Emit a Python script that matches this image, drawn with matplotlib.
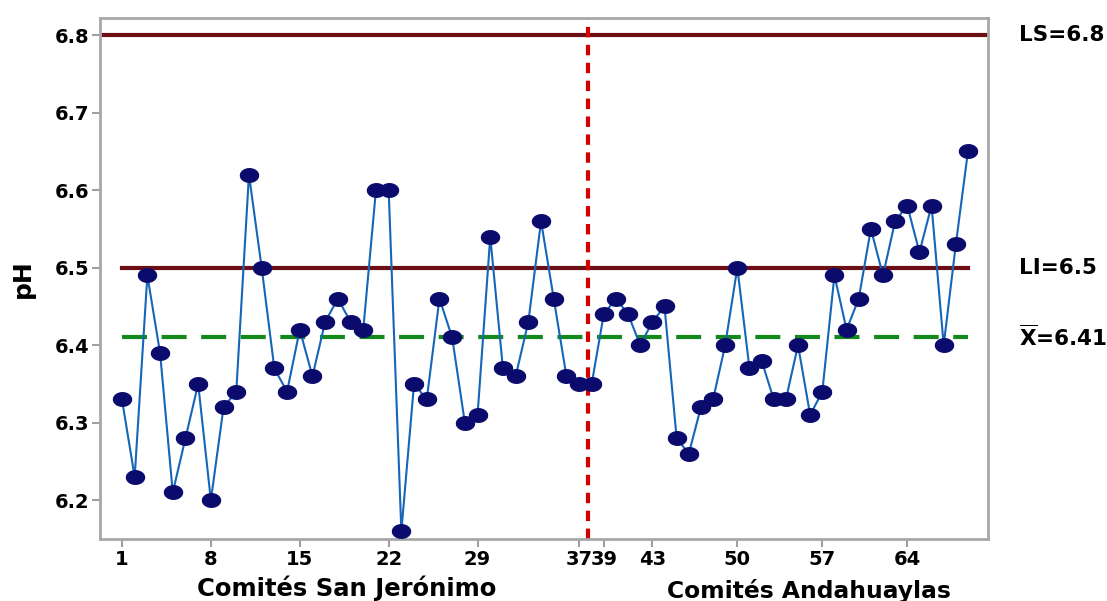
import numpy as np
import matplotlib.pyplot as plt
from matplotlib.path import Path

# pH por comité (1-37 San Jerónimo, 38-69 Andahuaylas)
ph = [6.33, 6.23, 6.49, 6.39, 6.21, 6.28, 6.35, 6.20, 6.32, 6.34,
      6.62, 6.50, 6.37, 6.34, 6.42, 6.36, 6.43, 6.46, 6.43, 6.42,
      6.60, 6.60, 6.16, 6.35, 6.33, 6.46, 6.41, 6.30, 6.31, 6.54,
      6.37, 6.36, 6.43, 6.56, 6.46, 6.36, 6.35,
      6.35, 6.44, 6.46, 6.44, 6.40, 6.43, 6.45, 6.28, 6.26, 6.32,
      6.33, 6.40, 6.50, 6.37, 6.38, 6.33, 6.33, 6.40, 6.31, 6.34,
      6.49, 6.42, 6.46, 6.55, 6.49, 6.56, 6.58, 6.52, 6.58, 6.40,
      6.53, 6.65]
comite = np.arange(1, len(ph) + 1)
xticks = [1, 8, 15, 22, 29, 37, 39, 43, 50, 57, 64]
yticks = [6.2, 6.3, 6.4, 6.5, 6.6, 6.7, 6.8]
ls, li, xbar = 6.8, 6.5, 6.41
split = 37.7


# the two groups were plotted at slightly different spacing
def fwd(x):
    x = np.asarray(x, dtype=float)
    return np.where(x <= split, (x - split) * 12.69, (x - split) * 12.13)


def inv(u):
    u = np.asarray(u, dtype=float)
    return np.where(u <= 0, u / 12.69 + split, u / 12.13 + split)


# elliptic marker
t = np.linspace(0, 2 * np.pi, 40)
ellipse = Path(np.column_stack([np.cos(t), 0.75 * np.sin(t)]))

fig = plt.figure(figsize=(11.07, 6.01), dpi=100)
ax = fig.add_axes([100 / 1107, 62 / 601, 888 / 1107, 521 / 601])
ax.set_xscale('function', functions=(fwd, inv))

ax.axhline(ls, color='#6b0f14', lw=3, zorder=2)
ax.plot([1, comite[-1]], [li, li], color='#6b0f14', lw=3, zorder=2)
ax.plot([1, comite[-1]], [xbar, xbar], color='#13891c', lw=3, ls=(0, (6, 3.5)), zorder=2)
ax.axvline(split, color='#d40000', lw=3, ls=(0, (2.5, 1.8)), zorder=2)

ax.plot(comite, ph, color='#1565b8', lw=1.5, marker=ellipse, ms=13,
        mfc='#0b0b6e', mec='#0b0b6e', zorder=3)

ax.set_xlim(-0.73, 70.65)
ax.set_ylim(6.15, 6.822)
ax.set_xticks(xticks)
ax.set_xticklabels([str(v) for v in xticks])
ax.xaxis.set_minor_locator(plt.NullLocator())
ax.set_yticks(yticks)
ax.set_yticklabels([f'{v:.1f}' for v in yticks])
for lab in ax.get_xticklabels() + ax.get_yticklabels():
    lab.set_fontweight('bold')
    lab.set_fontsize(14)
ax.tick_params(color='#a0a0a0', length=6, width=1.5, pad=2)
for s in ax.spines.values():
    s.set_color('#a8a8a8')
    s.set_linewidth(2)

ax.set_ylabel('pH', fontsize=18, fontweight='bold', labelpad=14)

ax.text(1.035, ls, 'LS=6.8', transform=ax.get_yaxis_transform(),
        fontsize=15.5, fontweight='bold', va='center')
ax.text(1.035, li, 'LI=6.5', transform=ax.get_yaxis_transform(),
        fontsize=15.5, fontweight='bold', va='center')
ax.text(1.035, xbar, r'$\mathbf{\overline{X}}$=6.41', transform=ax.get_yaxis_transform(),
        fontsize=15.5, fontweight='bold', va='center')

fig.text(347 / 1107, 1 - 588 / 601, 'Comités San Jerónimo', fontsize=17.5,
         fontweight='bold', ha='center', va='center')
fig.text(809 / 1107, 1 - 591 / 601, 'Comités Andahuaylas', fontsize=16.8,
         fontweight='bold', ha='center', va='center')

fig.savefig('out.png', dpi=100)
